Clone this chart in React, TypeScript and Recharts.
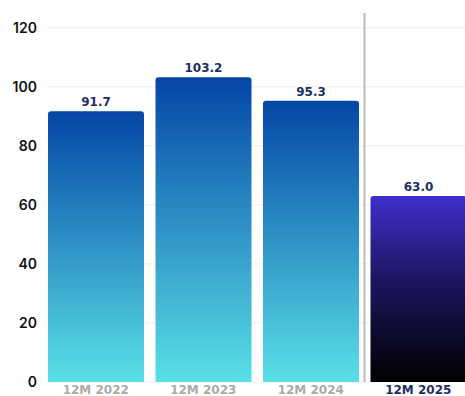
import {
  Bar,
  BarChart,
  CartesianGrid,
  Cell,
  LabelList,
  ReferenceLine,
  XAxis,
  YAxis,
} from "recharts";

const periods = ["12M 2022", "12M 2023", "12M 2024", "12M 2025"];
const values = [91.7, 103.2, 95.3, 63.0];
const yTicks = [0, 20, 40, 60, 80, 100, 120];
const yMax = 125;
const currentPeriod = "12M 2025";

const data = periods.map((period, index) => ({
  period,
  value: values[index],
}));

function PeriodTick({ x, y, payload }: any) {
  const isCurrent = payload.value === currentPeriod;
  return (
    <text
      x={x}
      y={y}
      dy={12}
      textAnchor="middle"
      fill={isCurrent ? "#1b2f66" : "#aaaaaa"}
      fontFamily="DejaVu Sans"
      fontWeight={700}
      fontSize={12}
    >
      {payload.value}
    </text>
  );
}

// grid rows only at the labelled ticks (no line at the top edge of the plot)
function gridRows({ offset }: any) {
  return yTicks.map((t) => offset.top + offset.height * (1 - t / yMax));
}

export default function App() {
  return (
    <div
      style={{
        position: "absolute",
        left: 0,
        top: 0,
        width: 465,
        height: 396,
        overflow: "hidden",
        background: "#ffffff",
      }}
    >
      <BarChart
        width={472}
        height={396}
        data={data}
        margin={{ top: 13, right: 0, bottom: 0, left: 0 }}
        barCategoryGap={6}
      >
        <defs>
          <linearGradient id="pastBars" x1="0" y1="0" x2="0" y2="1">
            <stop offset="0%" stopColor="#0446a6" />
            <stop offset="100%" stopColor="#5ae0e6" />
          </linearGradient>
          <linearGradient id="currentBar" x1="0" y1="0" x2="0" y2="1">
            <stop offset="0%" stopColor="#3d2fcc" />
            <stop offset="45%" stopColor="#1c1660" />
            <stop offset="100%" stopColor="#000000" />
          </linearGradient>
        </defs>
        <CartesianGrid
          vertical={false}
          stroke="#eeeeee"
          horizontalCoordinatesGenerator={gridRows}
        />
        <XAxis
          dataKey="period"
          axisLine={false}
          tickLine={false}
          tickSize={0}
          tickMargin={0}
          height={14}
          padding={{ left: -5, right: 0 }}
          interval={0}
          tick={<PeriodTick />}
        />
        <YAxis
          domain={[0, yMax]}
          ticks={yTicks}
          axisLine={false}
          tickLine={false}
          tickSize={0}
          tickMargin={10}
          width={47}
          tick={{
            fill: "#111111",
            fontSize: 14,
            fontFamily: "Inter",
            fontWeight: 600,
          }}
        />
        <ReferenceLine
          x={currentPeriod}
          position="start"
          stroke="#bcbcbc"
          strokeWidth={2}
        />
        <Bar dataKey="value" radius={[3, 3, 0, 0]} isAnimationActive={false}>
          {data.map((entry) => (
            <Cell
              key={entry.period}
              fill={entry.period === currentPeriod ? "url(#currentBar)" : "url(#pastBars)"}
            />
          ))}
          <LabelList
            dataKey="value"
            position="top"
            offset={5}
            formatter={(v: any) => Number(v).toFixed(1)}
            fill="#1b2f66"
            fontFamily="DejaVu Sans"
            fontWeight={700}
            fontSize={12}
          />
        </Bar>
      </BarChart>
    </div>
  );
}
